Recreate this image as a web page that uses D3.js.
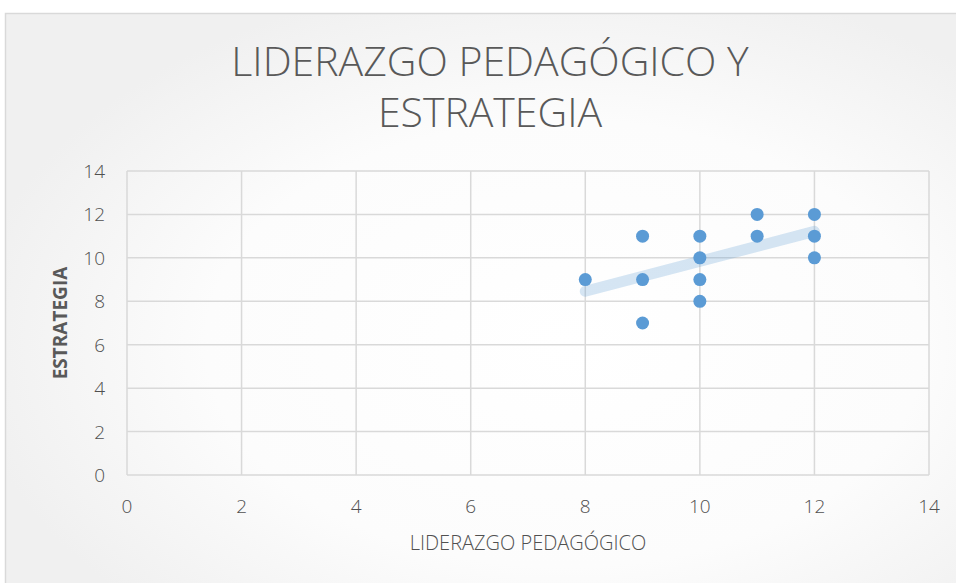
<!DOCTYPE html>
<html><head><meta charset="utf-8">
<script src="https://cdn.jsdelivr.net/npm/d3@7"></script>
<style>body{margin:0;background:#fff;}svg{display:block;}</style>
</head><body>
<svg id="c" width="956" height="583"></svg>
<script>
const liderazgo = [8, 9, 9, 9, 10, 10, 10, 10, 11, 11, 12, 12, 12];
const estrategia = [9, 11, 9, 7, 11, 10, 9, 8, 12, 11, 12, 11, 10];
const xTicks = [0, 2, 4, 6, 8, 10, 12, 14];
const yTicks = [0, 2, 4, 6, 8, 10, 12, 14];
const titleLines = ["LIDERAZGO PEDAGÓGICO Y", "ESTRATEGIA"];
const xTitle = "LIDERAZGO PEDAGÓGICO";
const yTitle = "ESTRATEGIA";

const svg = d3.select("#c");
const defs = svg.append("defs");
const g = defs.append("radialGradient").attr("id","bg").attr("cx","58%").attr("cy","55%").attr("r","62%");
g.append("stop").attr("offset","0%").attr("stop-color","#ffffff");
g.append("stop").attr("offset","60%").attr("stop-color","#fcfcfc");
g.append("stop").attr("offset","100%").attr("stop-color","#f0f0f0");
svg.append("rect").attr("x",5.5).attr("y",13.5).attr("width",965).attr("height",600)
  .attr("fill","url(#bg)").attr("stroke","#d9d9d9").attr("stroke-width",1.5);

const x = d3.scaleLinear().domain([0,14]).range([127,929]);
const y = d3.scaleLinear().domain([0,14]).range([475,171]);
const grid = "#d9d9d9";
const font = "'Open Sans', sans-serif";

svg.append("g").selectAll("line").data(xTicks).join("line")
  .attr("x1",d=>x(d)).attr("x2",d=>x(d)).attr("y1",y(0)).attr("y2",y(14))
  .attr("stroke",grid).attr("stroke-width",1.5);
svg.append("g").selectAll("line").data(yTicks).join("line")
  .attr("x1",x(0)).attr("x2",x(14)).attr("y1",d=>y(d)).attr("y2",d=>y(d))
  .attr("stroke",grid).attr("stroke-width",1.5);

svg.append("g").selectAll("text").data(xTicks).join("text")
  .attr("x",d=>x(d)).attr("y",513).attr("text-anchor","middle")
  .attr("font-family",font).attr("font-weight",300).attr("font-size",19).attr("fill","#505050").text(d=>d);
svg.append("g").selectAll("text").data(yTicks).join("text")
  .attr("x",105).attr("y",d=>y(d)+7).attr("text-anchor","end")
  .attr("font-family",font).attr("font-weight",300).attr("font-size",19).attr("fill","#505050").text(d=>d);

// trendline (least squares)
const n = liderazgo.length;
const mx = d3.mean(liderazgo), my = d3.mean(estrategia);
let sxy=0, sxx=0;
for(let i=0;i<n;i++){ sxy+=(liderazgo[i]-mx)*(estrategia[i]-my); sxx+=(liderazgo[i]-mx)**2; }
const b = sxy/sxx, a = my - b*mx;
const x0 = d3.min(liderazgo), x1 = d3.max(liderazgo);
svg.append("line").attr("x1",x(x0)).attr("y1",y(a+b*x0)).attr("x2",x(x1)).attr("y2",y(a+b*x1))
  .attr("stroke","#5b9bd5").attr("stroke-opacity",0.25).attr("stroke-width",11).attr("stroke-linecap","round");

svg.append("g").selectAll("circle").data(liderazgo.map((v,i)=>[v,estrategia[i]])).join("circle")
  .attr("cx",d=>x(d[0])).attr("cy",d=>y(d[1])).attr("r",6.5).attr("fill","#5b9bd5");

svg.append("g").selectAll("text").data(titleLines).join("text")
  .attr("x",490).attr("y",(d,i)=>76+i*51).attr("text-anchor","middle")
  .attr("font-family",font).attr("font-weight",300).attr("font-size",41).attr("fill","#595959").text(d=>d);

svg.append("text").attr("x",528).attr("y",550).attr("text-anchor","middle")
  .attr("font-family",font).attr("font-weight",300).attr("font-size",20).attr("fill","#505050").text(xTitle);
svg.append("text").attr("transform","translate(67,323) rotate(-90)").attr("text-anchor","middle")
  .attr("font-family",font).attr("font-size",19).attr("font-weight","bold").attr("fill","#595959").text(yTitle);
</script>
</body></html>
